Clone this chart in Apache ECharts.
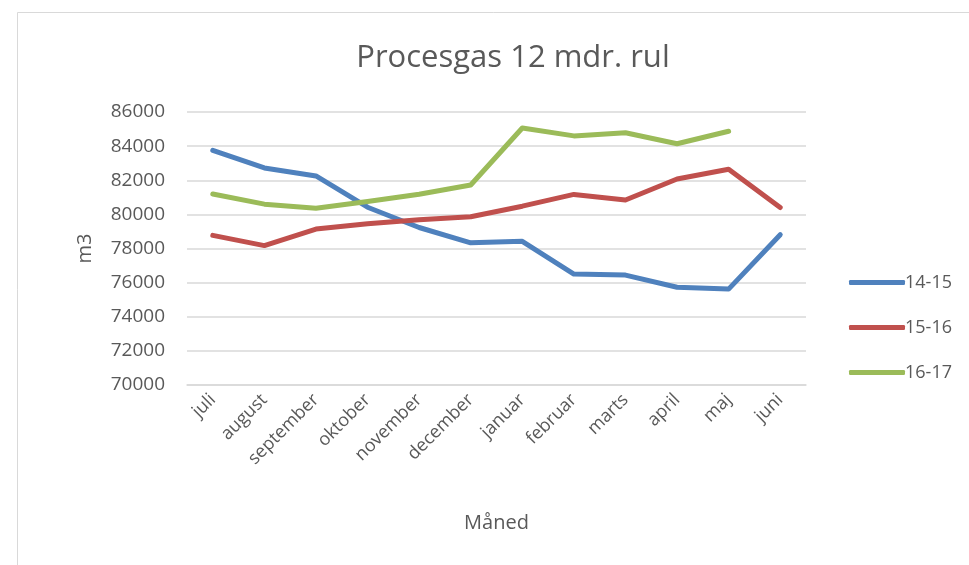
<!DOCTYPE html>
<html>
<head>
<meta charset="utf-8">
<title>Procesgas</title>
<script src="https://cdn.jsdelivr.net/npm/echarts@6/dist/echarts.min.js"></script>
<style>
  html, body { margin: 0; padding: 0; background: #fff; }
</style>
</head>
<body>
<div id="main" style="width:969px;height:565px"></div>
<script>
  // months of the gas year
  var months = ['juli', 'august', 'september', 'oktober', 'november', 'december',
                'januar', 'februar', 'marts', 'april', 'maj', 'juni'];

  // values (m3, 12 months rolling)
  var s1415 = [83750, 82720, 82250, 80420, 79230, 78330, 78420, 76500, 76440, 75730, 75620, 78810];
  var s1516 = [78770, 78170, 79140, 79450, 79680, 79860, 80480, 81170, 80840, 82070, 82640, 80400];
  var s1617 = [81190, 80600, 80360, 80760, 81180, 81720, 85060, 84600, 84780, 84140, 84870, null];

  var yTicks = [70000, 72000, 74000, 76000, 78000, 80000, 82000, 84000, 86000];

  var txt = '#595959';
  var font = 'Open Sans';

  function line(name, data, color) {
    return {
      name: name,
      type: 'line',
      data: data,
      showSymbol: false,
      symbol: 'none',
      lineStyle: { width: 5, color: color, cap: 'round', join: 'round' },
      itemStyle: { color: color }
    };
  }

  var option = {
    backgroundColor: '#fff',
    animation: false,
    title: {
      text: 'Procesgas 12 mdr. rul',
      left: 508,
      textAlign: 'center',
      top: 38,
      textStyle: { fontFamily: font, fontSize: 31, fontWeight: 'normal', color: txt }
    },
    graphic: [{
      type: 'rect',
      shape: { x: 17.5, y: 12.5, width: 1000, height: 600 },
      style: { fill: 'none', stroke: '#d9d9d9', lineWidth: 1 },
      silent: true
    }],
    legend: {
      orient: 'vertical',
      left: 844,
      top: 265,
      itemGap: 20,
      itemWidth: 56,
      itemHeight: 5,
      icon: 'roundRect',
      textStyle: { fontFamily: font, fontSize: 18, lineHeight: 25, color: txt, padding: [0, 0, 0, -5] },
      data: ['14-15', '15-16', '16-17']
    },
    grid: { left: 187, right: 163, top: 112, bottom: 180 },
    xAxis: {
      type: 'category',
      data: months,
      boundaryGap: true,
      name: 'Måned',
      nameLocation: 'middle',
      nameGap: 128,
      nameTextStyle: { fontFamily: font, fontSize: 20, color: txt },
      axisLine: { lineStyle: { color: '#d9d9d9', width: 1.5 } },
      axisTick: { show: false },
      axisLabel: { rotate: 45, fontFamily: font, fontSize: 18, color: txt, margin: 12, interval: 0 }
    },
    yAxis: {
      type: 'value',
      min: yTicks[0],
      max: yTicks[yTicks.length - 1],
      interval: 2000,
      name: 'm3',
      nameLocation: 'middle',
      nameGap: 92,
      nameRotate: 90,
      nameTextStyle: { fontFamily: font, fontSize: 20, color: txt },
      axisLine: { show: false },
      axisTick: { show: false },
      axisLabel: {
        fontFamily: font, fontSize: 19, color: txt, margin: 22,
        formatter: function (v) { return String(v); }
      },
      splitLine: { lineStyle: { color: '#d9d9d9', width: 1.5 } }
    },
    series: [
      line('14-15', s1415, '#4f81bd'),
      line('15-16', s1516, '#c0504d'),
      line('16-17', s1617, '#9bbb59')
    ]
  };

  var myChart = echarts.init(document.getElementById('main'));
  myChart.setOption(option);
</script>
</body>
</html>
